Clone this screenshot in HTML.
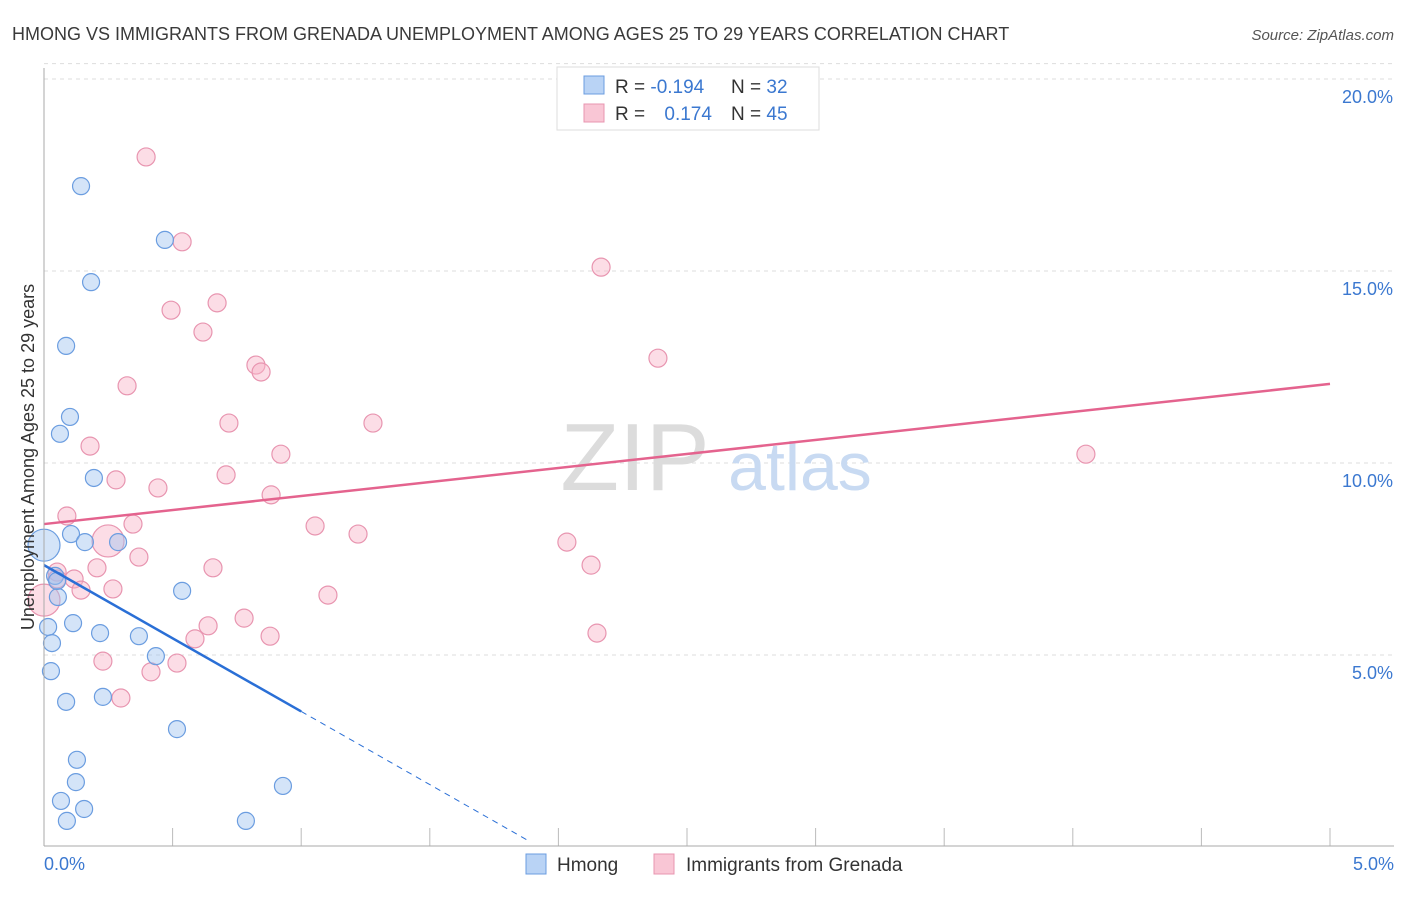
<!DOCTYPE html>
<html><head><meta charset="utf-8"><style>
body{margin:0;background:#fff;font-family:"Liberation Sans",sans-serif}
svg text{font-family:"Liberation Sans",sans-serif}
</style></head><body>
<svg id="chart" width="1406" height="892" xmlns="http://www.w3.org/2000/svg">
<text x="12" y="40" font-size="18" fill="#3a3a3a">HMONG VS IMMIGRANTS FROM GRENADA UNEMPLOYMENT AMONG AGES 25 TO 29 YEARS CORRELATION CHART</text>
<text x="1394" y="40" font-size="15" fill="#555" text-anchor="end" font-style="italic">Source: ZipAtlas.com</text>
<g id="grid"></g>
<g>
<text x="635" y="490" font-size="96" fill="#dcdcdc" text-anchor="middle" font-family="Liberation Serif">ZIP</text>
<text x="800" y="490" font-size="68" fill="#c8daf2" text-anchor="middle">atlas</text>
</g>
<g id="marks"></g>
<line x1="44" y1="68" x2="44" y2="846" stroke="#aaa"/>
<line x1="44" y1="846" x2="1394" y2="846" stroke="#aaa"/>
<text transform="translate(34,457) rotate(-90)" font-size="18" fill="#333" text-anchor="middle">Unemployment Among Ages 25 to 29 years</text>
<text x="44" y="870" font-size="18" fill="#3b78d0">0.0%</text>
<text x="1394" y="870" font-size="18" fill="#3b78d0" text-anchor="end">5.0%</text>
<g>
<rect x="557" y="67" width="262" height="63" fill="#fff" stroke="#ddd"/>
<rect x="584" y="76" width="20" height="18" fill="#b9d3f5" stroke="#6b9de0"/>
<rect x="584" y="104" width="20" height="18" fill="#f9c6d5" stroke="#e895b0"/>
<text x="615" y="93" font-size="19" fill="#333">R = <tspan fill="#3b78d0">-0.194</tspan></text>
<text x="731" y="93" font-size="19" fill="#333">N = <tspan fill="#3b78d0">32</tspan></text>
<text x="615" y="120" font-size="19" fill="#333">R = <tspan fill="#3b78d0" dx="14">0.174</tspan></text>
<text x="731" y="120" font-size="19" fill="#333">N = <tspan fill="#3b78d0">45</tspan></text>
</g>
<g>
<rect x="526" y="854" width="20" height="20" fill="#b9d3f5" stroke="#6b9de0"/>
<text x="557" y="871" font-size="19" fill="#333">Hmong</text>
<rect x="654" y="854" width="20" height="20" fill="#f9c6d5" stroke="#e895b0"/>
<text x="686" y="871" font-size="19" fill="#333">Immigrants from Grenada</text>
</g>
</svg>
<script>
const yTicks=[5,10,15,20];
const yTickLabels=["5.0%","10.0%","15.0%","20.0%"];
const hmongX=[0.144,0.470,0.183,0.086,0.101,0.062,0.194,0.105,0.159,0.288,0.0,0.043,0.054,0.537,0.016,0.113,0.218,0.369,0.031,0.435,0.027,0.086,0.229,0.517,0.128,0.124,0.929,0.066,0.156,0.089,0.785,0.051];
const hmongY=[17.21,15.81,14.71,13.05,11.20,10.76,9.61,8.15,7.94,7.94,7.86,7.06,6.51,6.67,5.73,5.83,5.57,5.49,5.31,4.97,4.58,3.78,3.91,3.07,2.27,1.69,1.59,1.20,0.99,0.68,0.68,6.93];
const hmongBig=[10];
const grenX=[0.397,0.537,2.166,0.494,0.673,0.618,2.387,0.824,0.844,0.323,1.279,0.719,0.179,0.921,4.051,0.280,0.708,0.443,0.883,0.089,1.054,0.346,1.221,2.033,0.249,0.369,0.206,2.127,0.657,1.104,0.051,0.117,0.051,0.144,0.268,0.0,0.778,0.638,2.150,0.879,0.587,0.229,0.517,0.416,0.299];
const grenY=[17.97,15.76,15.10,13.98,14.17,13.41,12.73,12.55,12.37,12.01,11.04,11.04,10.44,10.23,10.23,9.56,9.69,9.35,9.17,8.62,8.36,8.41,8.15,7.94,7.97,7.55,7.27,7.34,7.27,6.56,7.16,6.98,6.98,6.69,6.72,6.43,5.96,5.76,5.57,5.49,5.42,4.84,4.79,4.56,3.88];
const grenBig=[24,35];
const hmongTrend=[7.34,-3.81]; // intercept, slope
const grenTrend=[8.41,0.73];
const X=v=>44+v*257.2, Y=v=>847-v*38.4;
const NS="http://www.w3.org/2000/svg";
const grid=document.getElementById('grid'), marks=document.getElementById('marks');
function mk(tag,attrs,parent){const e=document.createElementNS(NS,tag);for(const k in attrs)e.setAttribute(k,attrs[k]);parent.appendChild(e);return e;}
yTicks.forEach((t,i)=>{
 const l=mk('line',{x1:44,x2:1394,y1:Y(t),y2:Y(t),stroke:'#ddd','stroke-dasharray':'4,4'},grid);
 
 
 const tx=mk('text',{x:1393,y:Y(t)+24,'font-size':18,fill:'#3b78d0','text-anchor':'end'},grid);
 tx.textContent=yTickLabels[i];
 
 
});
mk('line',{x1:44,x2:1394,y1:Y(20.4),y2:Y(20.4),stroke:'#ddd','stroke-dasharray':'4,4'},grid);
for(let i=1;i<=10;i++){
 const l=mk('line',{x1:X(i*0.5),x2:X(i*0.5),y1:828,y2:846,stroke:'#bbb'},grid);
 
 
}
grenX.forEach((x,i)=>{
 const big=grenBig.includes(i);
 const c=mk('circle',{cx:X(x),cy:Y(grenY[i]),r:big?16:9,fill:'rgba(248,180,200,0.45)',stroke:'#e895b0','stroke-width':1.2},marks);
 
 
});
hmongX.forEach((x,i)=>{
 const big=hmongBig.includes(i);
 const c=mk('circle',{cx:X(x),cy:Y(hmongY[i]),r:big?16:8.5,fill:'rgba(160,196,240,0.45)',stroke:'#6b9de0','stroke-width':1.2},marks);
 
 
});
const hl=mk('line',{x1:X(0),y1:Y(hmongTrend[0]),x2:X(1.0),y2:Y(hmongTrend[0]+hmongTrend[1]*1.0),stroke:'#2a6fd6','stroke-width':2.5},marks);


const hd=mk('line',{x1:X(1.0),y1:Y(hmongTrend[0]+hmongTrend[1]*1.0),x2:X(1.89),y2:Y(hmongTrend[0]+hmongTrend[1]*1.89),stroke:'#2a6fd6','stroke-width':1,'stroke-dasharray':'6,5'},marks);


const gl=mk('line',{x1:X(0),y1:Y(grenTrend[0]),x2:X(5),y2:Y(grenTrend[0]+grenTrend[1]*5),stroke:'#e4638e','stroke-width':2.5},marks);


</script>
</body></html>
